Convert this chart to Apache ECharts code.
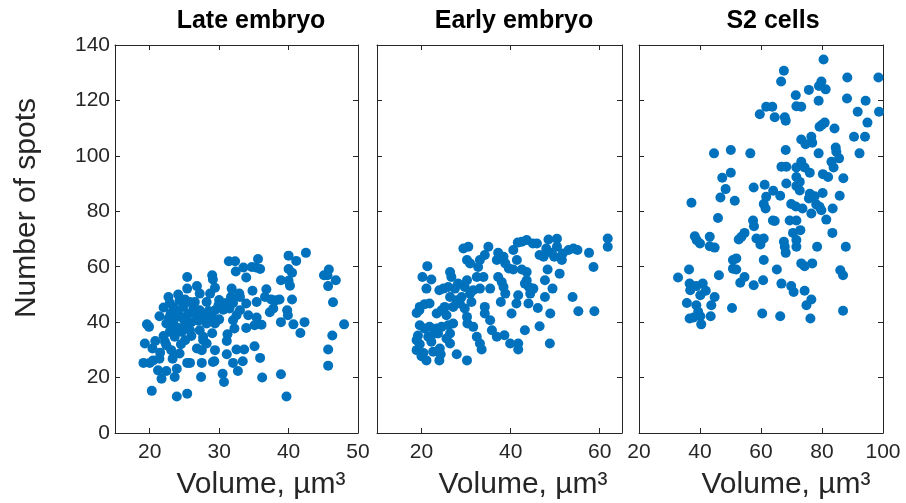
<!DOCTYPE html>
<html><head><meta charset="utf-8">
<script src="https://cdn.jsdelivr.net/npm/echarts@6/dist/echarts.min.js"></script>
<style>html,body{margin:0;padding:0;background:#fff}#c{width:906px;height:503px}</style>
</head><body><div id="c"></div>
<script>
// ---- Data ----
const panelTitles = ['Late embryo', 'Early embryo', 'S2 cells'];
const xAxisName = 'Volume, µm³';
const yAxisName = 'Number of spots';
const yTicks = [0, 20, 40, 60, 80, 100, 120, 140];
const lateXTicks = [20, 30, 40, 50];
const earlyXTicks = [20, 40, 60];
const s2XTicks = [20, 40, 60, 80, 100];

const lateX = [42.5,40.0,41.1,40.0,40.5,40.0,38.9,40.2,40.5,39.8,39.9,38.9,40.7,42.3,41.7,38.9,39.7,45.1,45.8,45.6,46.8,45.7,46.4,48.0,46.3,45.7,45.7,
35.6,35.9,35.3,34.7,33.9,33.5,32.4,32.3,31.4,34.8,36.8,36.6,37.5,38.7,38.2,37.3,37.8,35.4,33.9,33.0,34.2,35.4,36.1,35.1,33.9,32.5,33.0,32.9,31.8,31.7,32.0,31.5,31.0,30.6,32.0,32.2,31.2,31.1,35.1,35.9,36.2,33.6,32.5,33.4,32.0,32.7,30.5,30.7,29.1,31.1,29.4,
29.0,29.1,29.4,28.7,29.9,29.4,28.9,29.4,28.2,28.2,27.2,26.8,25.4,25.4,26.5,27.2,26.5,27.7,27.2,27.7,28.2,27.5,26.8,27.7,29.3,27.5,25.8,25.4,27.4,25.4,23.9,
24.1,24.3,22.9,22.0,23.4,24.8,26.3,25.6,24.6,23.9,22.7,21.4,22.4,23.4,25.1,25.8,24.6,22.9,23.6,25.1,22.2,20.8,19.6,19.9,19.3,20.4,22.4,23.1,24.3,23.3,21.4,20.5,19.1,20.0,21.2,22.4,21.7,23.6,23.9,20.3,22.7,25.8,25.1,
23.0,24.0,25.0,26.0,27.0,24.0,26.0,22.0,28.5,30.0,30.0,29.0,24.5,21.5];
const lateY = [65.0,64.0,62.1,59.2,57.8,54.9,55.1,53.1,48.2,44.3,42.5,40.0,39.2,40.0,36.1,21.2,13.2,56.9,59.0,56.9,55.1,53.0,47.2,39.2,35.2,30.1,24.3,
62.8,59.2,59.7,59.9,56.1,59.7,58.3,62.0,62.0,51.3,51.9,49.1,48.2,48.2,47.9,43.6,44.9,47.3,46.7,44.3,42.5,41.7,39.1,38.9,37.9,42.5,49.1,50.3,52.1,49.1,46.9,44.9,46.9,44.5,40.7,37.7,35.6,33.2,31.3,27.1,20.0,30.1,30.1,25.9,25.3,22.4,21.4,18.4,25.6,28.4,29.9,
56.9,55.4,52.4,50.3,46.1,44.3,41.9,39.5,39.5,47.3,50.3,53.0,56.3,52.1,47.3,44.3,43.1,42.5,37.1,34.7,32.3,29.9,30.5,33.5,25.9,25.3,25.3,25.3,20.2,14.2,13.2,
50.0,47.9,46.9,45.3,45.5,45.5,45.5,43.1,41.9,41.9,41.3,42.1,39.5,39.5,38.9,37.1,36.5,36.5,34.7,33.5,32.9,33.2,39.2,38.3,32.3,30.5,31.7,29.9,28.7,26.8,26.8,26.2,25.3,25.3,22.6,22.4,19.6,20.2,23.2,15.2,49.1,47.3,48.2,
43.0,44.0,40.5,40.0,40.5,38.0,35.0,35.0,44.0,48.0,41.0,36.0,32.0,29.0];

const earlyX = [61.8,61.8,58.6,57.6,58.8,55.2,53.9,55.0,54.1,53.0,51.7,51.5,50.4,50.4,49.8,49.2,48.5,48.0,47.4,46.5,45.9,45.0,43.6,42.5,41.6,40.6,48.3,51.0,47.7,49.4,47.7,48.9,46.5,48.8,46.1,45.1,44.4,43.6,43.6,44.0,43.2,41.7,41.3,40.2,41.7,41.7,39.9,
40.6,39.6,38.8,38.4,37.2,36.9,37.2,38.0,38.4,38.8,37.8,36.9,38.6,35.4,35.0,34.2,33.1,32.7,32.4,33.9,33.1,31.6,30.5,29.4,30.2,30.9,30.2,29.7,30.9,31.2,30.2,30.3,31.6,32.4,33.1,33.5,34.2,34.2,35.4,35.8,30.2,27.9,
26.4,26.7,28.2,27.5,26.0,24.9,24.0,26.4,27.9,29.0,25.2,24.5,23.4,25.6,27.1,26.0,24.5,23.4,26.4,25.6,26.4,24.1,24.3,24.0,21.3,20.2,22.2,21.1,21.8,20.7,19.6,18.9,19.5,19.6,20.7,21.8,19.2,18.9,21.5,22.2,19.6,18.9,20.4,22.6,21.1,20.0,23.7,22.9,27.1,28.6,29.7,43.2,44.1,41.4,42.5];
const earlyY = [70.2,67.2,59.9,65.0,43.9,43.9,49.1,66.0,66.6,66.0,64.8,62.4,70.1,67.2,63.6,65.0,69.8,66.6,63.6,64.2,68.4,68.4,69.6,69.0,68.7,66.0,59.0,57.5,55.1,52.1,49.1,43.1,38.5,32.3,45.1,52.1,50.3,55.1,58.1,46.7,37.1,49.7,46.7,43.1,32.3,30.1,32.3,
59.0,59.4,61.2,63.6,65.0,62.4,56.3,54.5,52.7,50.3,47.3,34.7,35.3,52.1,67.2,64.2,62.4,59.9,56.3,56.3,52.1,51.5,67.2,66.6,62.4,61.2,55.1,52.7,50.3,47.3,41.9,39.5,38.3,34.7,32.3,30.1,45.5,43.1,40.7,37.1,26.2,28.4,
58.1,56.3,53.9,52.1,52.7,52.1,51.5,49.1,47.9,49.1,45.5,44.3,43.1,42.5,39.5,38.9,38.3,37.7,35.9,34.1,32.3,30.5,28.4,26.2,60.2,56.3,55.4,52.1,46.7,46.5,45.5,43.3,44.3,38.9,37.7,38.3,35.2,33.5,34.7,32.9,32.0,29.9,28.9,29.3,26.2,27.7,35.9,35.9,45.5,46.7,44.9,53.9,52.7,62.4,59.0];

const s2X = [80.5,67.5,66.6,79.8,79.0,81.2,75.7,88.3,98.5,71.4,78.9,88.2,94.3,91.7,98.7,94.9,71.6,73.2,61.7,63.7,59.6,64.5,67.8,68.1,79.2,80.9,80.0,84.1,90.5,94.1,92.3,73.2,74.6,76.5,76.8,84.5,84.7,78.9,68.1,50.1,44.6,56.5,
85.6,83.1,83.8,73.2,66.7,68.3,71.6,74.3,76.0,80.3,82.0,87.0,71.6,72.7,68.3,47.3,50.1,48.4,46.7,51.4,37.2,57.6,61.2,64.0,66.3,71.6,72.7,76.0,77.6,80.2,85.8,75.7,78.1,61.7,60.9,61.5,69.9,71.4,73.6,79.2,79.8,83.5,76.5,81.4,
45.9,57.4,57.7,63.9,64.5,69.4,71.6,72.9,70.5,71.6,83.4,54.6,53.6,52.7,58.5,60.1,59.8,60.9,67.5,67.8,68.1,71.6,78.4,87.8,38.3,38.9,40.0,43.2,43.2,44.8,50.8,51.9,50.8,51.9,60.9,60.7,57.6,54.6,53.2,65.2,66.7,69.9,70.7,
73.2,74.3,76.8,74.3,76.5,74.9,76.2,66.3,60.4,50.5,86.0,86.9,86.9,46.2,36.4,32.8,36.6,38.8,40.9,41.9,40.1,36.8,44.8,35.7,38.8,43.7,39.4,40.1,36.6,37.9,40.4,43.5];
const s2Y = [134.8,130.7,126.8,126.8,125.2,124.0,123.8,128.3,128.3,121.9,119.9,120.7,119.9,115.9,115.9,112.0,117.9,117.7,117.7,117.7,115.0,113.9,113.9,112.7,110.5,112.0,111.2,109.9,106.9,106.9,100.9,105.9,104.2,106.9,104.7,103.0,101.5,100.9,102.1,102.1,100.9,100.9,
99.1,97.9,95.8,97.9,96.1,96.1,95.8,95.8,93.9,93.4,92.4,91.9,92.4,90.6,90.0,92.1,93.9,88.0,85.0,83.8,83.1,88.6,89.6,87.4,85.6,89.1,87.5,86.3,85.4,86.6,85.6,84.6,82.5,85.2,82.6,81.0,82.6,81.7,81.0,81.6,80.4,81.0,79.2,77.0,
77.6,76.7,74.6,76.7,76.5,76.7,76.7,73.2,72.2,69.6,72.2,72.2,70.8,69.8,70.2,69.8,68.0,70.2,69.0,67.2,65.0,67.2,67.2,67.2,71.0,69.6,68.4,70.8,67.4,66.9,62.4,63.0,59.3,59.0,62.4,55.1,53.3,56.3,54.2,59.0,53.9,53.0,50.9,
61.2,60.2,61.2,51.3,48.2,46.1,41.3,42.1,43.1,45.1,58.7,56.9,44.1,56.9,59.0,56.1,53.9,53.0,53.9,51.3,49.7,51.5,49.1,46.9,46.1,46.1,43.7,42.1,41.3,41.7,39.2,42.1];

// ---- Chart ----
const zip = (a, b) => a.map((v, i) => [v, b[i]]);
const FONT = '"Liberation Sans", Arial, Helvetica, sans-serif';
const axisColor = '#262626';
const labelColor = '#262626';
const grids = [
  {left: 115, top: 45, width: 243, height: 388},
  {left: 377, top: 45, width: 245, height: 388},
  {left: 639, top: 45, width: 244, height: 388}
];
const xRanges = [[15, 50, lateXTicks], [10, 65, earlyXTicks], [20, 100, s2XTicks]];

const xAxes = [], yAxes = [];
xRanges.forEach((r, i) => {
  const [mn, mx, ticks] = r;
  xAxes.push({
    type: 'value', gridIndex: i, position: 'bottom', min: mn, max: mx,
    axisLine: {show: true, onZero: false, lineStyle: {color: axisColor, width: 1}},
    axisTick: {show: true, inside: true, length: 5, customValues: ticks, lineStyle: {color: axisColor}},
    axisLabel: {show: true, customValues: ticks, color: labelColor, fontSize: 21, fontFamily: FONT, margin: 9},
    splitLine: {show: false}
  });
  xAxes.push({
    type: 'value', gridIndex: i, position: 'top', min: mn, max: mx,
    axisLine: {show: true, onZero: false, lineStyle: {color: axisColor, width: 1}},
    axisTick: {show: true, inside: true, length: 5, customValues: ticks, lineStyle: {color: axisColor}},
    axisLabel: {show: false},
    splitLine: {show: false}
  });
  yAxes.push({
    type: 'value', gridIndex: i, position: 'left', min: 0, max: 140, interval: 20,
    axisLine: {show: true, onZero: false, lineStyle: {color: axisColor, width: 1}},
    axisTick: {show: true, inside: true, length: 5, lineStyle: {color: axisColor}},
    axisLabel: {show: i === 0, color: labelColor, fontSize: 21, fontFamily: FONT, margin: 5},
    splitLine: {show: false}
  });
  yAxes.push({
    type: 'value', gridIndex: i, position: 'right', min: 0, max: 140, interval: 20,
    axisLine: {show: true, onZero: false, lineStyle: {color: axisColor, width: 1}},
    axisTick: {show: true, inside: true, length: 5, lineStyle: {color: axisColor}},
    axisLabel: {show: false},
    splitLine: {show: false}
  });
});

const seriesData = [zip(lateX, lateY), zip(earlyX, earlyY), zip(s2X, s2Y)];
const series = seriesData.map((d, i) => ({
  type: 'scatter', xAxisIndex: i * 2, yAxisIndex: i * 2, data: d,
  symbol: 'circle', symbolSize: 10,
  itemStyle: {color: '#0072BD', opacity: 1},
  emphasis: {disabled: true}
}));

const titleX = [251, 514, 773];
const xNameX = [261, 523, 786];
const graphic = [];
panelTitles.forEach((t, i) => {
  graphic.push({type: 'text', x: titleX[i], y: 21, style: {text: t, fontSize: 25, fontWeight: 'bold', fontFamily: FONT, fill: '#000', align: 'center', verticalAlign: 'middle'}});
  graphic.push({type: 'text', x: xNameX[i], y: 485, style: {text: xAxisName, fontSize: 30, fontFamily: FONT, fill: '#262626', align: 'center', verticalAlign: 'middle'}});
});
graphic.push({type: 'text', x: 27, y: 208, rotation: Math.PI / 2, style: {text: yAxisName, fontSize: 30, fontFamily: FONT, fill: '#262626', align: 'center', verticalAlign: 'middle'}});

const chart = echarts.init(document.getElementById('c'), null, {renderer: 'canvas'});
chart.setOption({
  animation: false,
  backgroundColor: '#fff',
  grid: grids,
  xAxis: xAxes,
  yAxis: yAxes,
  series: series,
  graphic: graphic
});
</script></body></html>
